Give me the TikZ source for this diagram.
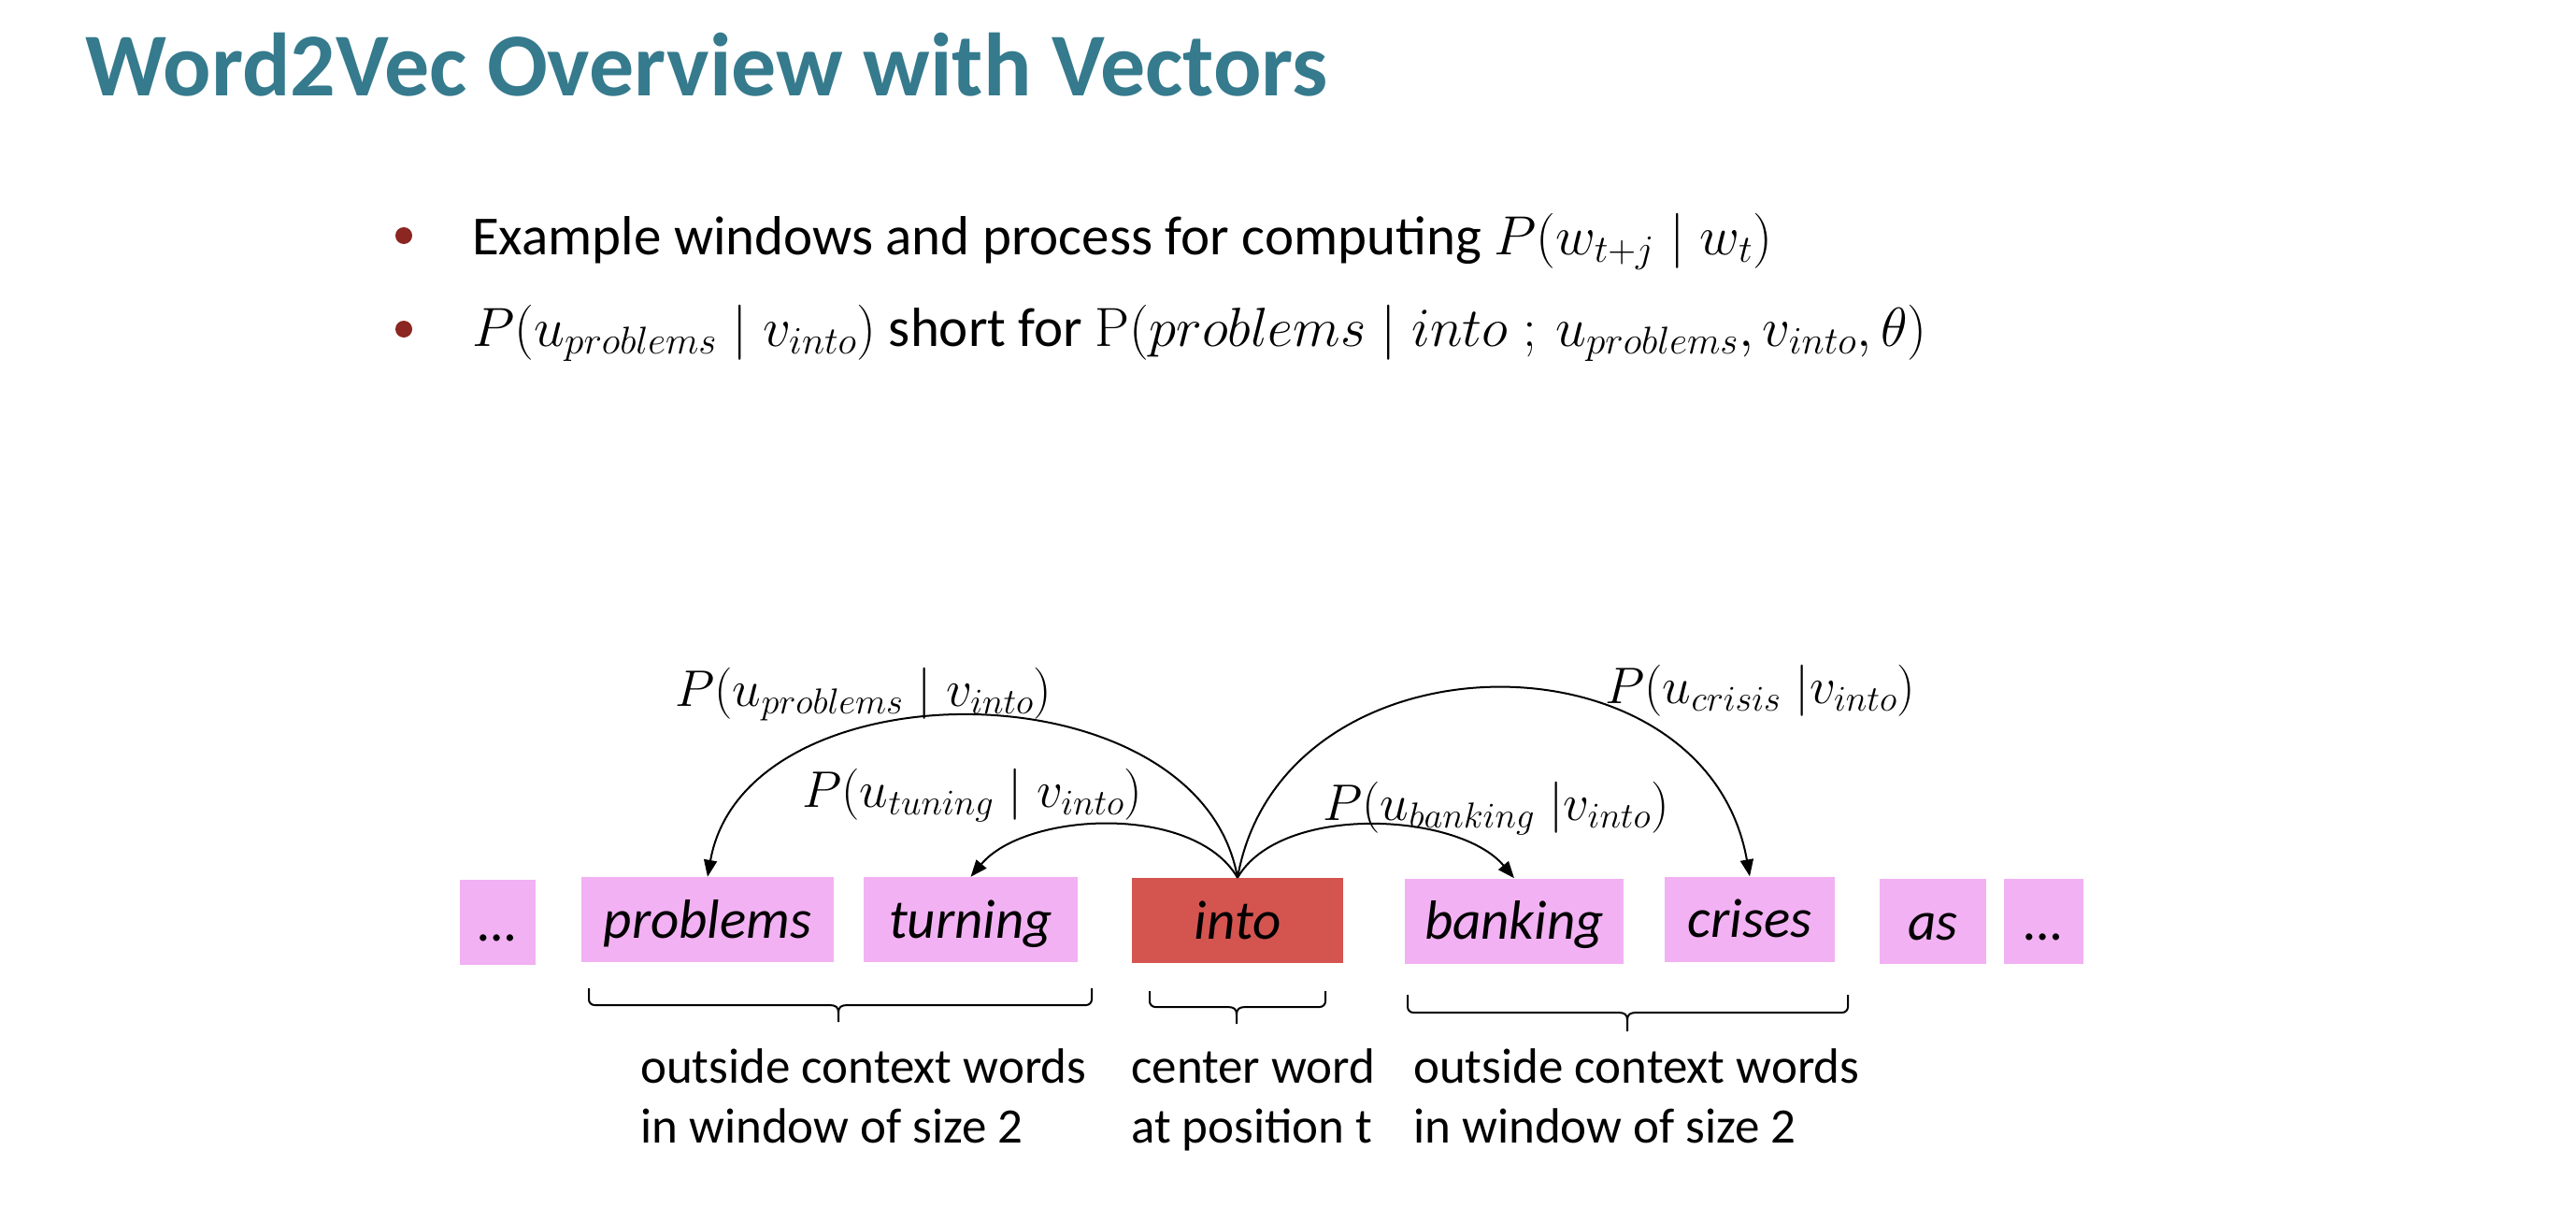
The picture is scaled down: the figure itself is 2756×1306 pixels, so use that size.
\RequirePackage{fix-cm}
\documentclass[tikz,border=0pt]{standalone}
\usepackage[no-math]{fontspec}
\setmainfont{Carlito}
\usetikzlibrary{arrows.meta}
\definecolor{titleteal}{RGB}{53,122,141}
\definecolor{bulletred}{RGB}{140,38,32}
\definecolor{wordpink}{RGB}{242,177,242}
\definecolor{centerred}{RGB}{212,84,80}
\tikzset{
  wordbox/.style={rectangle, fill=wordpink, inner sep=0pt, minimum height=91pt,
    font=\fontsize{59}{66}\selectfont\itshape, text height=46pt, text depth=7pt},
  centerbox/.style={wordbox, fill=centerred},
  ctxarrow/.style={line width=2pt, -{Triangle[length=18pt,width=14pt]}},
  bracestyle/.style={line width=2pt},
  bulletdot/.style={circle, fill=bulletred, minimum size=18pt, inner sep=0pt},
  bodytext/.style={anchor=base west, inner sep=0pt, font=\fontsize{59}{68}\selectfont},
  problabel/.style={anchor=base west, inner sep=0pt, font=\fontsize{55}{62}\selectfont},
  bracelabel/.style={anchor=base west, inner sep=0pt, font=\fontsize{53}{64}\selectfont}
}
\newcommand\wbrace[6]{%
  \draw[bracestyle] (#1,#4) -- (#1,{#5+6}) arc[start angle=180,end angle=270,radius=6pt]
    -- ({#3-10},#5) .. controls ({#3-3},#5) and (#3,{#5-2}) .. (#3,{#5-8}) -- (#3,#6);
  \draw[bracestyle] (#2,#4) -- (#2,{#5+6}) arc[start angle=0,end angle=-90,radius=6pt]
    -- ({#3+10},#5) .. controls ({#3+3},#5) and (#3,{#5-2}) .. (#3,{#5-8});
}
\begin{document}
\begin{tikzpicture}[x=1pt,y=1pt]
\useasboundingbox[fill=white] (0,0) rectangle (2756,-1306);

% title
\node[anchor=base west, inner sep=0pt, text=titleteal,
  font=\fontsize{96}{110}\selectfont\bfseries] (title) at (91,-102) {Word2Vec Overview with Vectors};

% bullets
\node[bulletdot] (d1) at (432,-252) {};
\node[bodytext] (b1) at (505,-272) {Example windows and process for computing $P(w_{t+j}\mid w_t)$};
\node[bulletdot] (d2) at (432,-352) {};
\node[bodytext] (b2) at (505,-370) {$P(u_{problems}\mid v_{into})$ short for $\mathrm{P}(problems\mid into\;;\, u_{problems}, v_{into},\theta)$};

% word boxes
\node[wordbox, minimum width=81pt]  (dotsL)    at (532.5,-986.5) {…};
\node[wordbox, minimum width=270pt] (problems) at (757,-983.5) {problems};
\node[wordbox, minimum width=229pt] (turning)  at (1038.5,-983.5) {turning};
\node[centerbox, minimum width=226pt] (into)   at (1324,-984.5) {into};
\node[wordbox, minimum width=234pt] (banking)  at (1620,-985) {banking};
\node[wordbox, minimum width=182pt] (crises)   at (1872,-983) {crises};
\node[wordbox, minimum width=114pt] (as)       at (2068,-985.5) {as};
\node[wordbox, minimum width=85pt]  (dotsR)    at (2186.5,-985.5) {…};

% arrows
\draw[ctxarrow] (into.north) to[out=100,in=80,looseness=1.05] (problems.north);
\draw[ctxarrow] (into.north) to[out=120,in=50,looseness=0.82] (turning.north);
\draw[ctxarrow] (into.north) to[out=60,in=130,looseness=0.8] (banking.north);
\draw[ctxarrow] (into.north) to[out=80,in=100,looseness=1.27] (crises.north);

% arrow labels
\node[problabel] (lprob) at (722,-755) {$P(u_{problems}\mid v_{into})$};
\node[problabel] (ltun)  at (858,-863) {$P(u_{tuning}\mid v_{into})$};
\node[problabel] (lbank) at (1415,-877) {$P(u_{banking}\;|v_{into})$};
\node[problabel] (lcris) at (1717,-752) {$P(u_{crisis}\;|v_{into})$};

% braces
\wbrace{630}{1168}{897}{-1057}{-1075}{-1093}
\wbrace{1230}{1418}{1323}{-1060}{-1077}{-1095}
\wbrace{1506}{1977}{1741}{-1064}{-1083}{-1103}

% brace labels
\node[bracelabel] (ctxL) at (685,-1158) {\begin{tabular}[t]{@{}l@{}}outside context words\\ in window of size 2\end{tabular}};
\node[bracelabel] (ctrC) at (1210,-1158) {\begin{tabular}[t]{@{}l@{}}center word\\ at position t\end{tabular}};
\node[bracelabel] (ctxR) at (1512,-1158) {\begin{tabular}[t]{@{}l@{}}outside context words\\ in window of size 2\end{tabular}};
\end{tikzpicture}
\end{document}
